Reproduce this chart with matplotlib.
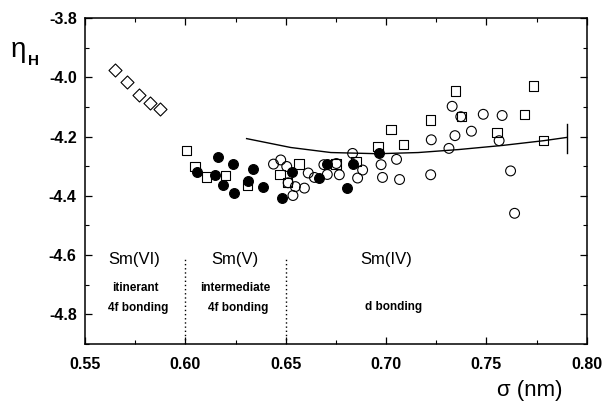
import matplotlib
matplotlib.use("Agg")
import matplotlib.pyplot as plt
from matplotlib.ticker import MultipleLocator, FormatStrFormatter

plt.rcParams["font.family"] = ["Liberation Sans", "DejaVu Sans"]

# sigma (nm), eta_H values
diamond_x = [0.5650, 0.5709, 0.5767, 0.5825, 0.5872]
diamond_y = [-3.976, -4.016, -4.061, -4.088, -4.108]

square_x = [0.6005, 0.6048, 0.6105, 0.6200, 0.6309, 0.6472, 0.6510, 0.6567, 0.6750,
            0.6850, 0.6959, 0.7025, 0.7088, 0.7220, 0.7345, 0.7375, 0.7553, 0.7689,
            0.7735, 0.7784]
square_y = [-4.247, -4.301, -4.336, -4.332, -4.364, -4.329, -4.356, -4.293, -4.293,
            -4.285, -4.234, -4.177, -4.227, -4.144, -4.047, -4.132, -4.186, -4.126,
            -4.029, -4.214]

filled_x = [0.6162, 0.6239, 0.6339, 0.6057, 0.6146, 0.6189, 0.6242, 0.6313, 0.6389,
            0.6479, 0.6530, 0.6708, 0.6667, 0.6806, 0.6833, 0.6963]
filled_y = [-4.270, -4.291, -4.309, -4.320, -4.329, -4.364, -4.392, -4.349, -4.371,
            -4.408, -4.321, -4.291, -4.340, -4.374, -4.293, -4.257]

open_x = [0.6439, 0.6475, 0.6505, 0.6512, 0.6548, 0.6593, 0.6536, 0.6612, 0.6643,
          0.6690, 0.6707, 0.6752, 0.6767, 0.6833, 0.6883, 0.6858, 0.6975, 0.6982,
          0.7052, 0.7067, 0.7222, 0.7225, 0.7313, 0.7329, 0.7372, 0.7484, 0.7343,
          0.7425, 0.7578, 0.7563, 0.7620, 0.7640]
open_y = [-4.293, -4.279, -4.301, -4.356, -4.369, -4.374, -4.399, -4.323, -4.338,
          -4.295, -4.328, -4.291, -4.329, -4.257, -4.313, -4.340, -4.295, -4.338,
          -4.277, -4.345, -4.329, -4.211, -4.240, -4.098, -4.133, -4.125, -4.197,
          -4.182, -4.129, -4.214, -4.316, -4.459]

curve_x = [0.6305, 0.6525, 0.6725, 0.6960, 0.7160, 0.7360, 0.7580, 0.7785, 0.7900]
curve_y = [-4.207, -4.237, -4.254, -4.258, -4.254, -4.244, -4.230, -4.214, -4.203]
bar_x = [0.790, 0.790]
bar_y = [-4.157, -4.254]

boundaries = [0.60, 0.65]
regions = [
    (0.5745, "Sm(VI)", "itinerant", "4f bonding"),
    (0.6245, "Sm(V)", "intermediate", "4f bonding"),
    (0.7000, "Sm(IV)", "", "d bonding"),
]

fig = plt.figure(figsize=(6.05, 4.05), dpi=100)
ax = fig.add_axes([0.1405, 0.1506, 0.8295, 0.805])

ax.scatter(diamond_x, diamond_y, marker="D", s=44, facecolors="white",
           edgecolors="black", linewidths=0.8, zorder=3)
ax.scatter(square_x, square_y, marker="s", s=46, facecolors="none",
           edgecolors="black", linewidths=0.8, zorder=3)
ax.scatter(open_x, open_y, marker="o", s=50, facecolors="none",
           edgecolors="black", linewidths=0.8, zorder=3)
ax.scatter(filled_x, filled_y, marker="o", s=50, facecolors="black",
           edgecolors="black", linewidths=0.8, zorder=4)
ax.plot(curve_x, curve_y, color="black", linewidth=1.0, zorder=2)
ax.plot(bar_x, bar_y, color="black", linewidth=1.0, zorder=2)

for b in boundaries:
    ax.plot([b, b], [-4.9, -4.61], color="black", linestyle=(0, (1, 2)),
            linewidth=1.0)

for x, head, l1, l2 in regions:
    ax.text(x, -4.615, head, ha="center", va="center", fontsize=12)
    if l1:
        ax.text(x + 0.0005, -4.712, l1, ha="center", va="center", fontsize=8.5,
                fontweight="bold")
        ax.text(x + 0.002, -4.780, l2, ha="center", va="center", fontsize=8.5,
                fontweight="bold")
    else:
        ax.text(x + 0.0035, -4.776, l2, ha="center", va="center", fontsize=8.5,
                fontweight="bold")

ax.set_xlim(0.55, 0.80)
ax.set_ylim(-4.9, -3.8)
ax.xaxis.set_major_locator(MultipleLocator(0.05))
ax.xaxis.set_minor_locator(MultipleLocator(0.025))
ax.yaxis.set_major_locator(MultipleLocator(0.2))
ax.yaxis.set_minor_locator(MultipleLocator(0.1))
ax.xaxis.set_major_formatter(FormatStrFormatter("%.2f"))
ax.yaxis.set_major_formatter(FormatStrFormatter("%.1f"))
ax.tick_params(which="both", direction="in", top=True, right=True)
ax.tick_params(which="major", length=5, width=0.9, labelsize=11.5)
ax.tick_params(axis="x", which="major", pad=9)
ax.tick_params(axis="y", which="major", pad=6)
ax.tick_params(which="minor", length=3, width=0.8)
for lab in ax.get_xticklabels() + ax.get_yticklabels():
    lab.set_fontweight("bold")
for s in ax.spines.values():
    s.set_linewidth(1.1)

fig.text(0.029, 0.872, r"$\mathregular{\eta}$", fontsize=20, ha="center", va="center")
fig.text(0.055, 0.850, "H", fontsize=11, ha="center", va="center", fontweight="bold")
fig.text(0.876, 0.036, "σ (nm)", fontsize=16, ha="center", va="center")

fig.savefig("out.png", dpi=100)
